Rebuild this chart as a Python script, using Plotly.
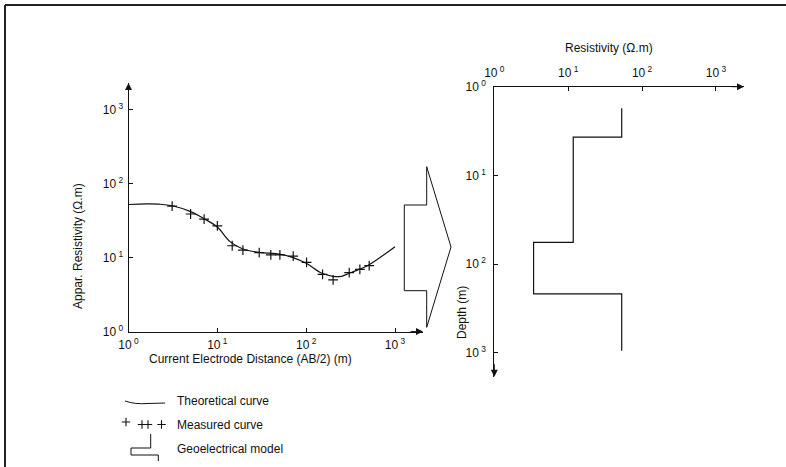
import plotly.graph_objects as go

W, H = 786, 467
FONT = "Liberation Sans, Arial, sans-serif"
INK = "#111111"

# Vertical electrical sounding: half electrode spacing AB/2 (m) and apparent resistivity (ohm.m)
ab2_measured = [3.1, 5.0, 7.1, 10.0, 14.7, 19.4, 29.6, 40.0, 50.6, 71.5, 101, 153, 201, 305, 402, 512]
rho_measured = [50, 39, 33.3, 27, 14.5, 12.7, 11.7, 10.9, 10.9, 10.5, 8.65, 5.96, 5.0, 6.27, 6.97, 7.8]

# Theoretical (fitted) sounding curve
ab2_theory = [1, 1.6, 2.2, 3.1, 5, 7, 10, 13.9, 19.4, 29.6, 50, 70, 100, 150, 200, 250, 300, 400, 500, 1000]
rho_theory = [52.5, 53.5, 53, 50.5, 42, 34, 26, 16.5, 13.1, 11.8, 11.2, 10.1, 8.4, 6.15, 5.6, 5.6, 6.1, 7.0, 7.9, 14.1]

# Interpreted geoelectrical model: layer resistivities and layer boundary depths
layer_rho = [53, 11.7, 3.4, 53]
layer_bounds = [1.75, 3.7, 57, 217, 950]

decade_vals = [1, 10, 100, 1000]
decade_text = ["10<sup>\u00a00</sup>", "10<sup>\u00a01</sup>", "10<sup>\u00a02</sup>", "10<sup>\u00a03</sup>"]

# step profile of the layered model
model_x, model_y = [], []
for i, r in enumerate(layer_rho):
    model_x += [r, r]
    model_y += [layer_bounds[i], layer_bounds[i + 1]]

fig = go.Figure()

fig.add_trace(go.Scatter(x=ab2_theory, y=rho_theory, mode="lines",
                         line=dict(color=INK, width=1.2, shape="spline", smoothing=1.0),
                         xaxis="x", yaxis="y", showlegend=False, hoverinfo="skip"))
fig.add_trace(go.Scatter(x=ab2_measured, y=rho_measured, mode="markers",
                         marker=dict(symbol="cross-thin", size=7, line=dict(color=INK, width=1.2)),
                         xaxis="x", yaxis="y", showlegend=False))
fig.add_trace(go.Scatter(x=model_x, y=model_y, mode="lines",
                         line=dict(color=INK, width=1.2),
                         xaxis="x2", yaxis="y2", showlegend=False))

# legend crosses, drawn on a pixel-space overlay axis
leg_cross_x = [126, 142, 148, 161.5]
leg_cross_y = [422, 424.5, 424.5, 424.5]
fig.add_trace(go.Scatter(x=leg_cross_x, y=leg_cross_y, mode="markers",
                         marker=dict(symbol="cross-thin", size=6, line=dict(color=INK, width=1.1)),
                         xaxis="x3", yaxis="y3", showlegend=False, hoverinfo="skip"))

axis_common = dict(type="log", tickvals=decade_vals, ticktext=decade_text, ticks="inside",
                   ticklen=4, tickcolor=INK, showline=True, linecolor=INK, linewidth=1,
                   showgrid=False, zeroline=False, automargin=False,
                   tickfont=dict(family=FONT, size=12, color=INK))

fig.update_layout(
    template="none",
    width=W, height=H, margin=dict(l=0, r=0, t=0, b=0, autoexpand=False),
    paper_bgcolor="white", plot_bgcolor="rgba(0,0,0,0)",
    font=dict(family=FONT, size=12, color=INK),
    xaxis=dict(axis_common, domain=[128.5 / W, 423 / W], range=[0, 3.315], anchor="y",
               ticklabelstandoff=2),
    yaxis=dict(axis_common, domain=[(H - 331.6) / H, (H - 83) / H], range=[0, 3.364], anchor="x",
               ticklabelstandoff=2),
    xaxis2=dict(axis_common, domain=[494.3 / W, 744 / W], range=[0, 3.379], side="top", anchor="y2",
                ticklabelstandoff=4),
    yaxis2=dict(axis_common, domain=[(H - 376.7) / H, (H - 86.7) / H], range=[3.27, 0], anchor="x2",
                ticklabelstandoff=5),
    xaxis3=dict(domain=[0, 1], range=[0, W], visible=False, anchor="y3", fixedrange=True,
                automargin=False),
    yaxis3=dict(domain=[0, 1], range=[H, 0], visible=False, anchor="x3", fixedrange=True,
                automargin=False),
)

px = dict(xref="x3", yref="y3")
shapes = [
    # outer frame (top and left edges)
    dict(type="line", x0=5, y0=5, x1=W, y1=5, line=dict(color="#222", width=2), **px),
    dict(type="line", x0=5, y0=5, x1=5, y1=H, line=dict(color="#222", width=2), **px),
    # hollow arrow linking the sounding curve to its interpretation
    dict(type="path", path="M 404.3 205 L 426.7 205 L 426.7 166.7 L 451 247 L 426.7 327.3 "
                            "L 426.7 290.7 L 404.3 290.7 Z",
         line=dict(color=INK, width=1), fillcolor="rgba(0,0,0,0)", **px),
    # legend: theoretical curve sample
    dict(type="path", path="M 125 401 Q 135 404.5 148 403.5 L 165 403",
         line=dict(color=INK, width=1), **px),
    # legend: geoelectrical model sample
    dict(type="path", path="M 150.7 434 L 150.7 448 L 131 448 L 131 455 L 158.3 455 L 158.3 461",
         line=dict(color=INK, width=1), **px),
]
fig.update_layout(shapes=shapes)

ann = []
# axis arrowheads
for (x, y, ax, ay) in [(423, 331.6, -14, 0), (128.5, 83, 0, 14), (744, 86.7, -14, 0), (494.3, 376.7, 0, -14)]:
    ann.append(dict(x=x, y=y, ax=ax, ay=ay, text="", showarrow=True, arrowhead=2, arrowsize=1.4,
                    arrowwidth=1, arrowcolor=INK, standoff=0, **px))
# axis titles
ann += [
    dict(x=78, y=246, text="Appar. Resistivity (Ω.m)", textangle=-90, showarrow=False, **px),
    dict(x=250, y=358.5, text="Current Electrode Distance (AB/2) (m)", showarrow=False, **px),
    dict(x=609, y=48, text="Resistivity (Ω.m)", showarrow=False, **px),
    dict(x=462, y=313, text="Depth (m)", textangle=-90, showarrow=False, **px),
]
# legend labels
for y, t in [(401, "Theoretical curve"), (425, "Measured curve"), (449, "Geoelectrical model")]:
    ann.append(dict(x=175, y=y, text=t, xanchor="left", showarrow=False, **px))
for a in ann:
    a.setdefault("font", dict(family=FONT, size=12, color=INK))
fig.update_layout(annotations=ann)

fig.write_html("out.html")
